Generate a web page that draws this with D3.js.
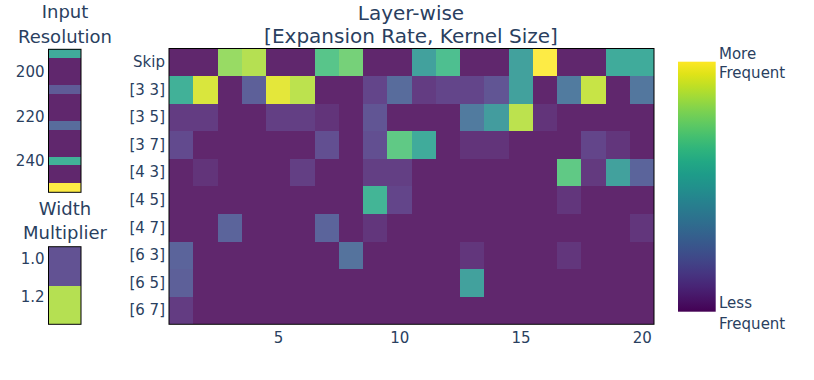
<!DOCTYPE html>
<html>
<head>
<meta charset="utf-8">
<script src="https://cdn.jsdelivr.net/npm/d3@7"></script>
<style>
  body { margin: 0; background: #fff; }
  text { font-family: "DejaVu Sans", Verdana, sans-serif; fill: #2a3f5f; }
</style>
</head>
<body>
<div id="chart"></div>
<script>
// layer-wise choices
var layers = [1,2,3,4,5,6,7,8,9,10,11,12,13,14,15,16,17,18,19,20];
var ops = ["Skip","[3 3]","[3 5]","[3 7]","[4 3]","[4 5]","[4 7]","[6 3]","[6 5]","[6 7]"];
var opFreq = [
  [0,0,0.82,0.87,0,0,0.68,0.75,0,0,0.5,0.65,0,0,0.5,1.0,0,0,0.55,0.55],
  [0.58,0.93,0,0.2,0.95,0.88,0,0,0.1,0.25,0.07,0.1,0.1,0.16,0.5,0,0.32,0.9,0,0.3],
  [0.07,0.07,0,0,0.08,0.08,0.04,0,0.16,0,0,0,0.32,0.48,0.88,0.04,0,0,0,0],
  [0.12,0,0,0,0,0,0.14,0,0.14,0.7,0.55,0,0.04,0.04,0,0,0,0.1,0.05,0],
  [0,0.04,0,0,0,0.08,0,0,0.08,0.08,0,0,0,0,0,0,0.7,0.06,0.5,0.22],
  [0,0,0,0,0,0,0,0,0.6,0.1,0,0,0,0,0,0,0.05,0,0,0],
  [0,0,0.22,0,0,0,0.22,0,0.05,0,0,0,0,0,0,0,0,0,0,0.05],
  [0.22,0,0,0,0,0,0,0.28,0,0,0,0,0.05,0,0,0,0.05,0,0,0],
  [0.2,0,0,0,0,0,0,0,0,0,0,0,0.5,0,0,0,0,0,0,0],
  [0.07,0,0,0,0,0,0,0,0,0,0,0,0,0,0,0,0,0,0,0]
];
var layerTicks = [5,10,15,20];

// input resolution
var resolutions = [192,196,200,204,208,212,216,220,224,228,232,236,240,244,248,252];
var resFreq = [0.55,0,0,0,0.18,0,0,0,0.25,0,0,0,0.58,0,0,1.0];
var resTicks = [200,220,240];

// width multiplier
var widths = [1.0,1.2];
var widthFreq = [0.15,0.87];
var widthTicks = [1.0,1.2];

var W = 814, H = 380;
var svg = d3.select("#chart").append("svg")
    .attr("width", W)
    .attr("height", H);

var color = d3.scaleSequential(d3.interpolateViridis).domain([0,1]);
var cellOpacity = 0.85;

// ---- main heatmap
var x = d3.scaleLinear().domain([0.5,20.5]).range([169,654]);
var y = d3.scaleBand().domain(ops).range([48.5,324.3]);

var cells = [];
ops.forEach(function(op, i){
    layers.forEach(function(l, j){ cells.push({op: op, layer: l, v: opFreq[i][j]}); });
});

svg.append("g").selectAll("rect")
    .data(cells)
    .enter()
    .append("rect")
    .attr("x", function(d){ return x(d.layer - 0.5); })
    .attr("width", function(d){ return x(d.layer + 0.5) - x(d.layer - 0.5); })
    .attr("y", function(d){ return y(d.op); })
    .attr("height", y.bandwidth())
    .attr("fill", function(d){ return color(d.v); })
    .attr("fill-opacity", cellOpacity)
    .attr("shape-rendering", "crispEdges");

svg.append("rect")
    .attr("x", x.range()[0]).attr("y", y.range()[0])
    .attr("width", x.range()[1] - x.range()[0])
    .attr("height", y.range()[1] - y.range()[0])
    .attr("fill", "none").attr("stroke", "#000").attr("stroke-width", 1);

var xAxis = svg.append("g")
    .attr("transform", "translate(0," + y.range()[1] + ")")
    .call(d3.axisBottom(x).tickValues(layerTicks).tickSize(0).tickPadding(8));
xAxis.select(".domain").remove();

var yAxis = svg.append("g")
    .attr("transform", "translate(" + x.range()[0] + ",0)")
    .call(d3.axisLeft(y).tickSize(0).tickPadding(4));
yAxis.select(".domain").remove();

// main title
var title = svg.append("text")
    .attr("text-anchor", "middle")
    .attr("x", 411)
    .style("font-size", "20px");
title.append("tspan").attr("x", 411).attr("y", 20).text("Layer-wise");
title.append("tspan").attr("x", 411).attr("y", 43).text("[Expansion Rate, Kernel Size]");

// ---- input resolution
var xs = [48.5, 81];
var yRes = d3.scaleLinear().domain([190,254]).range([49.3,192.3]);

svg.append("g").selectAll("rect")
    .data(resolutions)
    .enter()
    .append("rect")
    .attr("x", xs[0])
    .attr("width", xs[1] - xs[0])
    .attr("y", function(r){ return yRes(r - 2); })
    .attr("height", function(r){ return yRes(r + 2) - yRes(r - 2); })
    .attr("fill", function(r, i){ return color(resFreq[i]); })
    .attr("fill-opacity", cellOpacity)
    .attr("shape-rendering", "crispEdges");

svg.append("rect")
    .attr("x", xs[0]).attr("y", yRes.range()[0])
    .attr("width", xs[1] - xs[0]).attr("height", yRes.range()[1] - yRes.range()[0])
    .attr("fill", "none").attr("stroke", "#000").attr("stroke-width", 1);

var resAxis = svg.append("g")
    .attr("transform", "translate(" + xs[0] + ",0)")
    .call(d3.axisLeft(yRes).tickValues(resTicks).tickSize(0).tickPadding(4));
resAxis.select(".domain").remove();

var resTitle = svg.append("text").attr("text-anchor", "middle").style("font-size", "18px");
resTitle.append("tspan").attr("x", 65).attr("y", 18).text("Input");
resTitle.append("tspan").attr("x", 65).attr("y", 43).text("Resolution");

// ---- width multiplier
var yW = d3.scaleLinear().domain([0.94,1.34]).range([246.7,324.3]);

svg.append("g").selectAll("rect")
    .data(widths)
    .enter()
    .append("rect")
    .attr("x", xs[0])
    .attr("width", xs[1] - xs[0])
    .attr("y", function(w){ return yW(w - 0.06); })
    .attr("height", function(w){ return yW(w + 0.14) - yW(w - 0.06); })
    .attr("fill", function(w, i){ return color(widthFreq[i]); })
    .attr("fill-opacity", cellOpacity)
    .attr("shape-rendering", "crispEdges");

svg.append("rect")
    .attr("x", xs[0]).attr("y", yW.range()[0])
    .attr("width", xs[1] - xs[0]).attr("height", yW.range()[1] - yW.range()[0])
    .attr("fill", "none").attr("stroke", "#000").attr("stroke-width", 1);

var wAxis = svg.append("g")
    .attr("transform", "translate(" + xs[0] + ",0)")
    .call(d3.axisLeft(yW).tickValues(widthTicks).tickFormat(d3.format(".1f")).tickSize(0).tickPadding(4));
wAxis.select(".domain").remove();

var wTitle = svg.append("text").attr("text-anchor", "middle").style("font-size", "18px");
wTitle.append("tspan").attr("x", 65).attr("y", 215).text("Width");
wTitle.append("tspan").attr("x", 65).attr("y", 239).text("Multiplier");

svg.selectAll(".tick text")
    .style("font-family", "DejaVu Sans, sans-serif")
    .style("font-size", "15px")
    .attr("fill", "#2a3f5f");

// ---- colorbar
var cb = {x0: 678, x1: 715.7};
var cbY = d3.scaleLinear().domain([0,1]).range([311.7,61.7]);

var grad = svg.append("defs").append("linearGradient")
    .attr("id", "viridis")
    .attr("x1", 0).attr("y1", 1).attr("x2", 0).attr("y2", 0);
grad.selectAll("stop")
    .data(d3.range(0, 1.0001, 0.05))
    .enter()
    .append("stop")
    .attr("offset", function(d){ return d; })
    .attr("stop-color", function(d){ return color(d); });

svg.append("rect")
    .attr("x", cb.x0).attr("y", cbY(1))
    .attr("width", cb.x1 - cb.x0).attr("height", cbY(0) - cbY(1))
    .attr("fill", "url(#viridis)");

var more = svg.append("text").style("font-size", "15px");
more.append("tspan").attr("x", 719).attr("y", cbY(1) - 3).text("More");
more.append("tspan").attr("x", 719).attr("y", cbY(1) + 16).text("Frequent");
var less = svg.append("text").style("font-size", "15px");
less.append("tspan").attr("x", 719).attr("y", cbY(0) - 4).text("Less");
less.append("tspan").attr("x", 719).attr("y", cbY(0) + 17).text("Frequent");
</script>
</body>
</html>
